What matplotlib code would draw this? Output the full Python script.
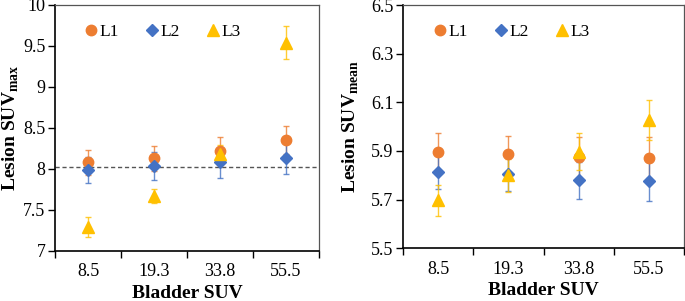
import matplotlib
matplotlib.use("Agg")
import matplotlib.pyplot as plt
from matplotlib.lines import Line2D
import numpy as np

plt.rcParams['font.family'] = ['Liberation Serif', 'DejaVu Serif']
plt.rcParams['mathtext.fontset'] = 'custom'
plt.rcParams['mathtext.rm'] = 'Liberation Serif'
plt.rcParams['mathtext.bf'] = 'Liberation Serif:bold'

categories = ["8.5", "19.3", "33.8", "55.5"]
series = ["L1", "L2", "L3"]

max_vals = {
    "L1": [8.08, 8.13, 8.22, 8.35],
    "L2": [7.99, 8.04, 8.08, 8.14],
    "L3": [7.29, 7.67, 8.18, 9.54],
}
max_err = {
    "L1": [0.15, 0.15, 0.17, 0.17],
    "L2": [0.16, 0.17, 0.19, 0.20],
    "L3": [0.12, 0.085, 0.11, 0.20],
}
mean_vals = {
    "L1": [5.895, 5.887, 5.874, 5.873],
    "L2": [5.814, 5.805, 5.779, 5.775],
    "L3": [5.697, 5.801, 5.897, 6.027],
}
mean_err = {
    "L1": [0.078, 0.075, 0.085, 0.085],
    "L2": [0.070, 0.070, 0.075, 0.080],
    "L3": [0.063, 0.068, 0.075, 0.082],
}
ref_line = 8.02

colors = {"L1": "#ED7D31", "L2": "#4472C4", "L3": "#FFC000"}
markers = {"L1": ("o", 7.5), "L2": ("D", 6), "L3": ("^", 8)}

fig = plt.figure(figsize=(6.85, 3.01), dpi=100)
ax1 = fig.add_axes([55/685, 50/301, 264/685, 246/301])
ax2 = fig.add_axes([403/685, 52.7/301, 281/685, 243.3/301])

x = np.arange(len(categories))

def draw(ax, vals, errs, ylim, yticks, ylabel, label_x):
    handles = []
    for s in series:
        m, ms = markers[s]
        ax.errorbar(x, vals[s], yerr=errs[s], fmt='none',
                    ecolor=colors[s], elinewidth=1, capsize=2.5, capthick=1,
                    alpha=0.8, zorder=2)
        ax.plot(x, vals[s], linestyle='none', marker=m, ms=ms, color=colors[s],
                zorder=3)
        handles.append(Line2D([], [], linestyle='none', marker=m, ms=ms,
                              color=colors[s], label=s))
    ax.set_xlim(-0.5, len(categories) - 0.5)
    ax.set_ylim(*ylim)
    ax.set_yticks(yticks)
    ax.set_xticks(x)
    ax.set_xticklabels(categories)
    ax.set_xticks(np.arange(len(categories) + 1) - 0.5, minor=True)
    ax.tick_params(axis='x', which='major', length=0, labelsize=13, pad=9)
    ax.tick_params(axis='x', which='minor', length=5, width=1, direction='out')
    ax.tick_params(axis='y', length=5, width=1, direction='out', labelsize=13,
                   pad=2)
    for sp in ['left', 'bottom']:
        ax.spines[sp].set_color('black')
        ax.spines[sp].set_linewidth(1.2)
    for sp in ['top', 'right']:
        ax.spines[sp].set_color('#555555')
        ax.spines[sp].set_linewidth(0.9)
    ax.set_xlabel("Bladder SUV", fontsize=14, fontweight='bold', labelpad=3)
    ax.set_ylabel(ylabel, fontsize=14, fontweight='bold')
    ax.yaxis.set_label_coords(label_x, 0.5)
    ax.legend(handles=handles, loc='upper left', bbox_to_anchor=(0.07, 0.95),
              ncol=3, frameon=False, fontsize=12.5, handletextpad=-0.1,
              columnspacing=1.3, borderaxespad=0, numpoints=1,
              handlelength=1.2)

draw(ax1, max_vals, max_err, (7, 10), [7, 7.5, 8, 8.5, 9, 9.5, 10],
     r"Lesion SUV$_{\mathbf{max}}$", -0.13)
ax1.set_yticklabels(["7", "7.5", "8", "8.5", "9", "9.5", "10"])
ax1.axhline(ref_line, color='#555555', linestyle='--', linewidth=1,
            dashes=(3, 2), zorder=1)

draw(ax2, mean_vals, mean_err, (5.5, 6.5), [5.5, 5.7, 5.9, 6.1, 6.3, 6.5],
     r"Lesion SUV$_{\mathbf{mean}}$", -0.15)

fig.savefig("out.png", dpi=100)
